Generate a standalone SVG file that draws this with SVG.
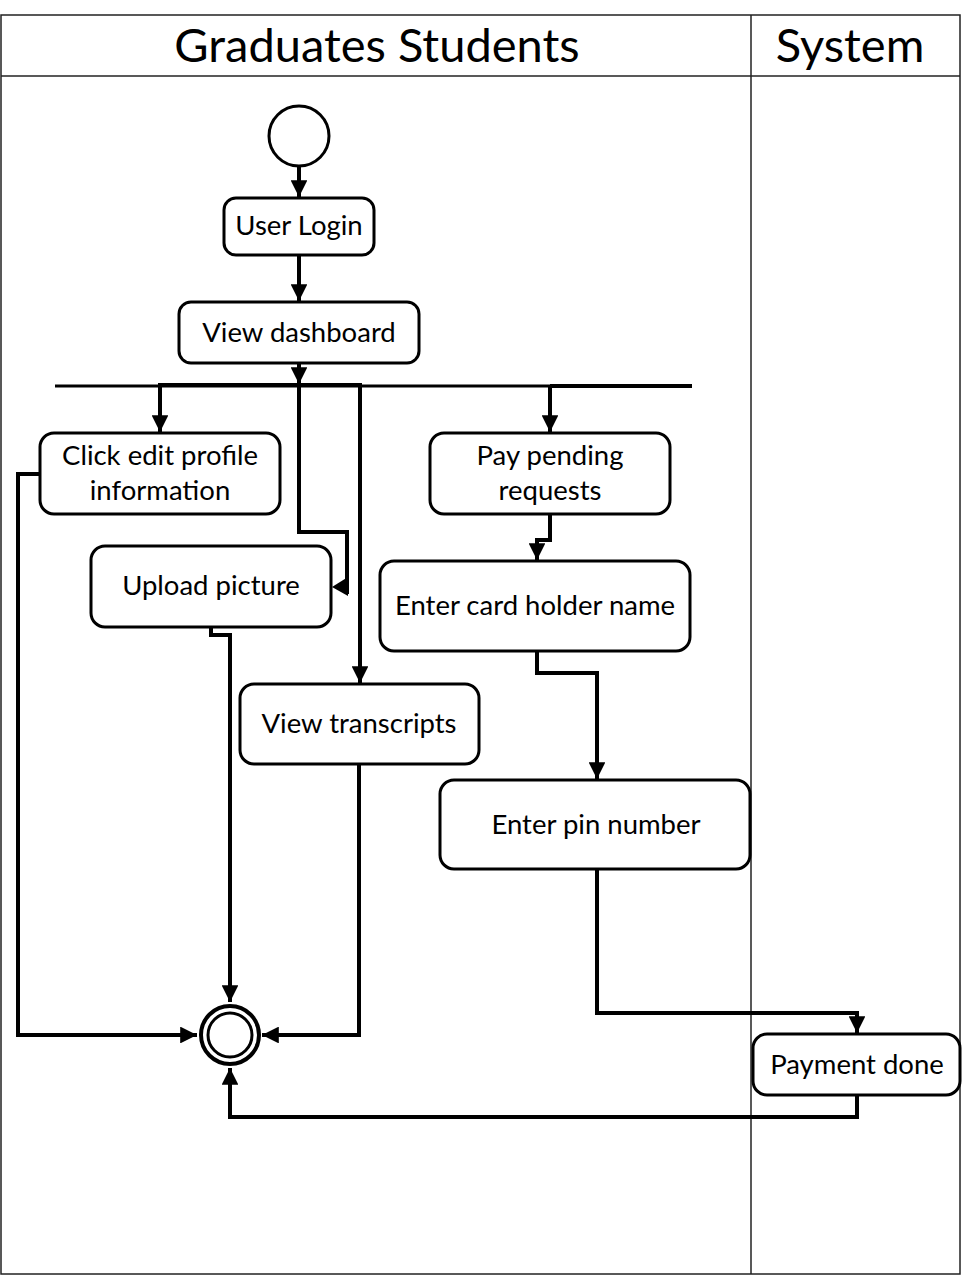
<svg xmlns="http://www.w3.org/2000/svg" width="963" height="1276" viewBox="0 0 963 1276">
  <style>
    .lane { fill: none; stroke: #222; stroke-width: 1.5; }
    .title { font-family: Lato, "Open Sans", sans-serif; font-size: 47px; fill: #000; text-anchor: middle; }
    .box { fill: #fff; stroke: #000; stroke-width: 3; }
    .label { font-family: Lato, "Open Sans", sans-serif; font-size: 27.5px; fill: #000; text-anchor: middle; }
    .flow { fill: none; stroke: #000; stroke-width: 4; stroke-linejoin: miter; }
    .bar { fill: none; stroke: #000; stroke-width: 3; }
  </style>
  <defs>
    <marker id="arrow" viewBox="0 0 10 10" refX="10" refY="5" markerWidth="4.2" markerHeight="4.2" markerUnits="strokeWidth" orient="auto">
      <path d="M0,0 L10,5 L0,10 Z" fill="#000"/>
    </marker>
  </defs>

  <rect width="963" height="1276" fill="#fff"/>

  <!-- swimlanes -->
  <g id="lanes">
    <rect class="lane" x="1" y="15" width="959" height="1259"/>
    <line class="lane" x1="1" y1="76" x2="960" y2="76"/>
    <line class="lane" x1="751" y1="15" x2="751" y2="1274"/>
    <text class="title" x="377" y="62">Graduates Students</text>
    <text class="title" x="850" y="62">System</text>
  </g>

  <!-- fork bar -->
  <g id="fork">
    <line class="bar" x1="55" y1="386" x2="692" y2="386"/>
  </g>

  <!-- connectors -->
  <g id="connectors">
    <path class="flow" d="M299,166 V197" marker-end="url(#arrow)"/>
    <path class="flow" d="M299,255 V301" marker-end="url(#arrow)"/>
    <path class="flow" d="M299,363 V384" marker-end="url(#arrow)"/>
    <path class="flow" d="M299,385 H160 V432" marker-end="url(#arrow)"/>
    <path class="flow" d="M299,385 V532 H347 V594"/>
    <path d="M332,587 L348,577 L348,596 Z" fill="#000"/>
    <path class="flow" d="M299,385 H360 V683" marker-end="url(#arrow)"/>
    <path class="flow" d="M550,386 H692"/>
    <path class="flow" d="M550,386 V432" marker-end="url(#arrow)"/>
    <path class="flow" d="M550,514 V540 H537 V560" marker-end="url(#arrow)"/>
    <path class="flow" d="M537,651 V673 H597 V779" marker-end="url(#arrow)"/>
    <path class="flow" d="M597,869 V1013 H857 V1033" marker-end="url(#arrow)"/>
    <path class="flow" d="M40,474 H18 V1035 H197" marker-end="url(#arrow)"/>
    <path class="flow" d="M211,627 V635 H230 V1002" marker-end="url(#arrow)"/>
    <path class="flow" d="M359,764 V1035 H262" marker-end="url(#arrow)"/>
    <path class="flow" d="M857,1095 V1117 H230 V1068" marker-end="url(#arrow)"/>
  </g>

  <!-- initial node -->
  <g id="start">
    <circle cx="299" cy="136" r="30" fill="#fff" stroke="#000" stroke-width="3"/>
  </g>

  <g id="user-login">
    <rect class="box" x="224" y="198" width="150" height="57" rx="12"/>
    <text class="label" x="299" y="235">User Login</text>
  </g>

  <g id="view-dashboard">
    <rect class="box" x="179" y="302" width="240" height="61" rx="12"/>
    <text class="label" x="299" y="342">View dashboard</text>
  </g>

  <g id="edit-profile">
    <rect class="box" x="40" y="433" width="240" height="81" rx="14"/>
    <text class="label" x="160" y="465">Click edit profile</text>
    <text class="label" x="160" y="500">information</text>
  </g>

  <g id="upload-picture">
    <rect class="box" x="91" y="546" width="240" height="81" rx="14"/>
    <text class="label" x="211" y="595">Upload picture</text>
  </g>

  <g id="view-transcripts">
    <rect class="box" x="240" y="684" width="239" height="80" rx="14"/>
    <text class="label" x="359" y="733">View transcripts</text>
  </g>

  <g id="pay-pending">
    <rect class="box" x="430" y="433" width="240" height="81" rx="14"/>
    <text class="label" x="550" y="465">Pay pending</text>
    <text class="label" x="550" y="500">requests</text>
  </g>

  <g id="card-holder">
    <rect class="box" x="380" y="561" width="310" height="90" rx="14"/>
    <text class="label" x="535" y="615">Enter card holder name</text>
  </g>

  <g id="pin-number">
    <rect class="box" x="440" y="780" width="310" height="89" rx="14"/>
    <text class="label" x="596" y="834">Enter pin number</text>
  </g>

  <g id="payment-done">
    <rect class="box" x="753" y="1034" width="207" height="61" rx="14"/>
    <text class="label" x="857" y="1074">Payment done</text>
  </g>

  <!-- final node -->
  <g id="end">
    <circle cx="230" cy="1035" r="29" fill="#fff" stroke="#000" stroke-width="4"/>
    <circle cx="230" cy="1035" r="22" fill="#fff" stroke="#000" stroke-width="3"/>
  </g>
</svg>
